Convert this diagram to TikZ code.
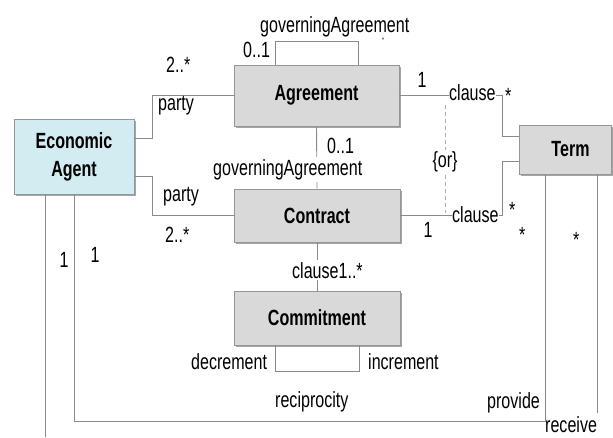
\documentclass[tikz,border=0pt]{standalone}
\usepackage{fontspec}
\setmainfont{Liberation Sans}[FakeStretch=0.73]
\usetikzlibrary{shadows}
\definecolor{ln}{RGB}{138,138,138}
\definecolor{bord}{RGB}{150,150,150}
\definecolor{boxfill}{RGB}{217,217,217}
\definecolor{eafill}{RGB}{210,236,241}
\definecolor{shd}{RGB}{165,165,165}
\tikzset{
  umlbox/.style={rectangle, draw=bord, line width=0.9pt, fill=boxfill, inner sep=0pt,
    font=\fontsize{22}{28}\selectfont\bfseries, align=center,
    drop shadow={shadow xshift=1.6pt, shadow yshift=-1.6pt, fill=shd, opacity=1}},
  conn/.style={draw=ln, line width=0.9pt},
  orline/.style={draw=ln!70, line width=0.8pt, dash pattern=on 4pt off 3pt},
  lbl/.style={inner sep=0pt, anchor=base west, font=\fontsize{22}{26}\selectfont},
  wlbl/.style={lbl, fill=white, inner ysep=2pt},
}
\begin{document}
\begin{tikzpicture}[x=1pt,y=-1pt]
\useasboundingbox (0,0) rectangle (613,437);
% boxes
\node[umlbox, fill=eafill, minimum width=120pt, minimum height=75pt] (ea) at (74,156.5) {Economic\\Agent};
\node[umlbox, minimum width=165pt, minimum height=61pt] (agr) at (316.5,95.5) {Agreement};
\node[umlbox, minimum width=166pt, minimum height=53pt] (con) at (317,215.5) {Contract};
\node[umlbox, minimum width=166pt, minimum height=54pt] (com) at (317,318) {Commitment};
\node[umlbox, minimum width=92pt, minimum height=49pt] (term) at (565,149.5) {\hspace*{11pt}Term};
% connectors
\draw[conn] ([yshift=18.5pt]ea.east) -- (152,138) |- (agr.west);
\draw[conn] ([yshift=-19.5pt]ea.east) -- (152,176) |- (con.west);
\draw[conn] ([xshift=-41.5pt]agr.north) -- ++(0,-23) -| ([xshift=41.5pt]agr.north);
\draw[conn] (agr.south) -- (con.north);
\draw[conn] (agr.east) -- (502,95.5) |- ([yshift=13.5pt]term.west);
\draw[conn] (con.east) -- (502,215.5) |- ([yshift=-11.5pt]term.west);
\coordinate (ortop) at (445,105);
\coordinate (orbot) at (445,213);
\draw[orline] (ortop) -- (orbot);
\draw[conn] (con.south) -- (com.north);
\draw[conn] ([xshift=-42pt]com.south) -- ++(0,26) -| ([xshift=42pt]com.south);
\draw[conn] (ea.south) -- (74,421) -| ([xshift=-19.5pt]term.south);
\coordinate (recvA) at (45,437);
\coordinate (recvB) at (597,413);
\draw[conn] ([xshift=-29pt]ea.south) -- (recvA);
\draw[conn] ([xshift=32pt]term.south) -- (recvB);
% labels
\node[lbl] (gaTop) at (260,32) {governingAgreement};
\node[lbl] (m01a) at (243,57) {0..1};
\node[lbl, font=\fontsize{7}{8}\selectfont] (mstar0) at (382,42) {*};
\node[lbl] (m2a) at (166,72) {2..*};
\node[lbl] (partyA) at (158,110) {party};
\node[lbl] (m1a) at (417.5,87) {1};
\node[wlbl] (clauseA) at (449,100) {clause};
\node[lbl] (starA) at (505,103) {*};
\node[lbl] (m01b) at (327,153) {0..1};
\node[wlbl] (gaMid) at (213,175) {governingAgreement};
\node[lbl, anchor=center, fill=white, inner ysep=2pt] (orlbl) at (445,162) {\{or\}};
\node[lbl] (partyB) at (163,201) {party};
\node[lbl] (m2b) at (165,242) {2..*};
\node[lbl] (m1b) at (423.5,237) {1};
\node[wlbl] (clauseB) at (452,222) {clause};
\node[lbl] (starB) at (509,217) {*};
\node[lbl] (starC) at (519,242) {*};
\node[lbl] (starD) at (573,247) {*};
\node[wlbl] (clauseC) at (292,278) {clause1..*};
\node[lbl] (decr) at (191,369) {decrement};
\node[lbl] (incr) at (368,369) {increment};
\node[lbl] (recip) at (275,407) {reciprocity};
\node[lbl] (prov) at (487,408) {provide};
\node[lbl] (recv) at (545,432) {receive};
\node[lbl] (m1c) at (59.5,267) {1};
\node[lbl] (m1d) at (90.5,262) {1};
\end{tikzpicture}
\end{document}
